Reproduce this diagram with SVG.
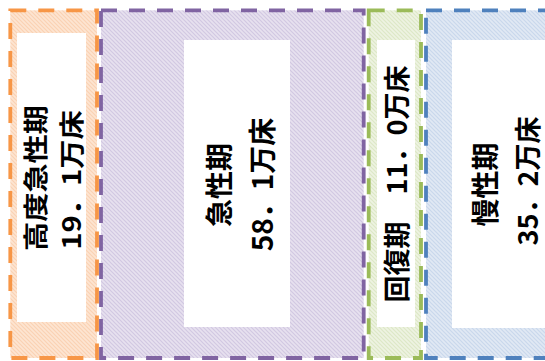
<svg xmlns="http://www.w3.org/2000/svg" width="545" height="361" viewBox="0 0 545 361">
  <style>
    .box { stroke-width: 3.8; stroke-dasharray: 16 12; }
    .inner { fill: #ffffff; stroke: none; }
    .lbl { font-family: "Noto Sans CJK JP", "Noto Sans", sans-serif; font-weight: bold; fill: #000000; text-anchor: middle; dominant-baseline: central; }
  </style>
  <defs>
    <pattern id="hO" width="4" height="4" patternUnits="userSpaceOnUse">
      <rect width="4" height="4" fill="#FDE5D2"/>
      <path d="M-1,-1 L5,5 M-1,3 L1,5 M3,-1 L5,1" stroke="#FAD2B3" stroke-width="1.2"/>
    </pattern>
    <pattern id="hP" width="4" height="4" patternUnits="userSpaceOnUse">
      <rect width="4" height="4" fill="#E7E1EF"/>
      <path d="M-1,-1 L5,5 M-1,3 L1,5 M3,-1 L5,1" stroke="#D2C8E2" stroke-width="1.2"/>
    </pattern>
    <pattern id="hG" width="4" height="4" patternUnits="userSpaceOnUse">
      <rect width="4" height="4" fill="#EEF3E2"/>
      <path d="M-1,-1 L5,5 M-1,3 L1,5 M3,-1 L5,1" stroke="#DDE8C6" stroke-width="1.2"/>
    </pattern>
    <pattern id="hB" width="4" height="4" patternUnits="userSpaceOnUse">
      <rect width="4" height="4" fill="#E1E9F4"/>
      <path d="M-1,-1 L5,5 M-1,3 L1,5 M3,-1 L5,1" stroke="#C9D8EC" stroke-width="1.2"/>
    </pattern>
  </defs>

  <g id="connectors"></g>

  <g id="node-koudo">
    <rect class="box" x="10.3" y="10.3" width="86.7" height="347.7" fill="url(#hO)" stroke="#F79646"/>
    <rect class="inner" x="17" y="33" width="69" height="289"/>
    <text class="lbl" font-size="25" transform="translate(34,178) rotate(-90) scale(1.17,1)">高度急性期</text>
    <text class="lbl" font-size="25" transform="translate(69.5,180) rotate(-90) scale(1.17,1)">19．1万床</text>
  </g>

  <g id="node-kyusei">
    <rect class="box" x="101" y="10.3" width="262.7" height="347.7" fill="url(#hP)" stroke="#8064A2"/>
    <rect class="inner" x="184" y="40" width="106" height="287"/>
    <text class="lbl" font-size="28" transform="translate(217.5,185) rotate(-90)">急性期</text>
    <text class="lbl" font-size="28" transform="translate(260.5,184.5) rotate(-90)">58．1万床</text>
  </g>

  <g id="node-kaifuku">
    <rect class="box" x="368.7" y="10.3" width="52.3" height="347.7" fill="url(#hG)" stroke="#9BBB59"/>
    <rect class="inner" x="377" y="40" width="38" height="287"/>
    <text class="lbl" font-size="27" transform="translate(395,184) rotate(-90)">回復期　11．0万床</text>
  </g>

  <g id="node-mansei">
    <rect class="box" x="426" y="10.3" width="140" height="347.7" fill="url(#hB)" stroke="#4F81BD"/>
    <rect class="inner" x="452" y="40" width="110" height="288"/>
    <text class="lbl" font-size="28" transform="translate(484,184.5) rotate(-90)">慢性期</text>
    <text class="lbl" font-size="27" transform="translate(526.5,181) rotate(-90)">35．2万床</text>
  </g>
</svg>
